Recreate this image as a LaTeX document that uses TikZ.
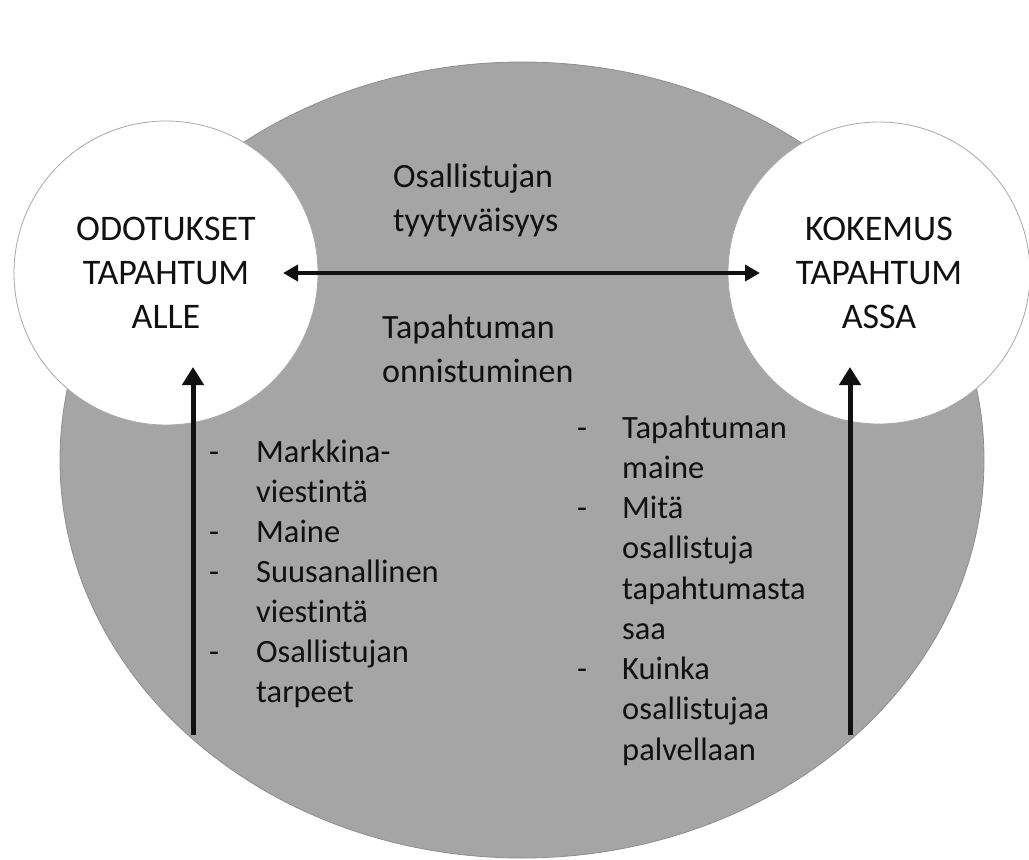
\documentclass[tikz,border=0pt]{standalone}
\usepackage{fontspec}
\setmainfont{Carlito}[Ligatures=NoCommon, Contextuals=NoAlternate]
\usetikzlibrary{arrows.meta}

\definecolor{ringgray}{HTML}{A5A5A5}
\definecolor{ringedge}{HTML}{8E8E8E}
\definecolor{bubbleedge}{HTML}{A8A8A8}
\definecolor{ink}{HTML}{111111}

\begin{document}
\begin{tikzpicture}[x=1pt, y=-1pt,
  bubble/.style={circle, fill=white, draw=bubbleedge, line width=0.8pt,
                 minimum size=304pt, inner sep=0pt},
  bubbletext/.style={inner sep=0pt, text=ink,
                 font=\fontsize{36}{44}\selectfont},
  midlabel/.style={inner sep=0pt, text=ink,
                 font=\fontsize{34}{44.3}\selectfont},
  listtext/.style={inner sep=0pt, text=ink,
                 font=\fontsize{32.5}{40}\selectfont},
  listtextb/.style={inner sep=0pt, text=ink,
                 font=\fontsize{32.5}{40.25}\selectfont},
  feed/.style={line width=5pt, ink, -{Triangle[length=18pt,width=21pt]}},
  link/.style={line width=4.5pt, ink,
               {Triangle[length=15pt,width=16pt]}-{Triangle[length=15pt,width=16pt]}}
]
\useasboundingbox (0,0) rectangle (1029,860);

% large grey field
\fill[ringgray, draw=ringedge, line width=0.8pt]
  (522,460) ellipse [x radius=462, y radius=398];

% the two white bubbles
\node[bubble] (L) at (166,273) {};
\node[bubble, minimum size=302pt] (R) at (879,273) {};

% bubble captions
\node[bubbletext, anchor=base] (Ltxt) at (166,240)
  {\begin{tabular}[t]{@{}c@{}}ODOTUKSET\\TAPAHTUM\\ALLE\end{tabular}};
\node[bubbletext, anchor=base] (Rtxt) at (879,240)
  {\begin{tabular}[t]{@{}c@{}}KOKEMUS\\TAPAHTUM\\ASSA\end{tabular}};

% centre labels
\node[midlabel, anchor=base west] (sat) at (393,187)
  {\begin{tabular}[t]{@{}l@{}}Osallistujan\\tyytyväisyys\end{tabular}};
\node[midlabel, anchor=base west] (succ) at (382,338)
  {\begin{tabular}[t]{@{}l@{}}Tapahtuman\\onnistuminen\end{tabular}};

% factor lists
\node[listtext, anchor=base west] (leftlist) at (209,462.7)
  {\begin{tabular}[t]{@{}p{47pt}@{}l@{}}
    - & Markkina-\\
      & viestintä\\
    - & Maine\\
    - & Suusanallinen\\
      & viestintä\\
    - & Osallistujan\\
      & tarpeet
  \end{tabular}};
\node[listtextb, anchor=base west] (rightlist) at (577,438)
  {\begin{tabular}[t]{@{}p{45pt}@{}l@{}}
    - & Tapahtuman\\
      & maine\\
    - & Mitä\\
      & osallistuja\\
      & tapahtumasta\\
      & saa\\
    - & Kuinka\\
      & osallistujaa\\
      & palvellaan
  \end{tabular}};

% arrow end points
\coordinate (lfoot) at (193,735);
\coordinate (ltip)  at (193,367);
\coordinate (rfoot) at (850,735);
\coordinate (rtip)  at (850,367);
\coordinate (hl) at (283,273);
\coordinate (hr) at (760,273);

% connectors
\draw[feed] (lfoot) -- (ltip);
\draw[feed] (rfoot) -- (rtip);
\draw[link] (hl) -- (hr);
\end{tikzpicture}
\end{document}
